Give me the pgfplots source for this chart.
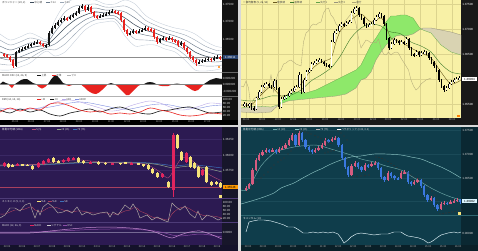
\documentclass[border=0pt]{standalone}
\usepackage{fontspec}
\setmainfont{Liberation Sans}
\newfontfamily\jp{Noto Sans CJK JP}
\usepackage{pgfplots}
\pgfplotsset{compat=1.18}
\usepackage{pgfplotstable}

\newcommand\tf{\fontsize{3}{3.3}\selectfont}
\newcommand\tfs{\fontsize{2.6}{2.9}\selectfont}

\definecolor{sep}{HTML}{D8D8D8}
\definecolor{tlstrip}{HTML}{121212}
\definecolor{tlbox}{HTML}{2A4470}
\definecolor{tlm}{HTML}{3C4B5A}
\definecolor{tls1}{HTML}{6C7B8C}
\definecolor{tls2}{HTML}{9AA6B5}
\definecolor{tls3}{HTML}{C3CCD8}
\definecolor{tlred}{HTML}{E8231F}
\definecolor{tlblk}{HTML}{151515}
\definecolor{tldmiA}{HTML}{B8A8E8}
\definecolor{tldmiB}{HTML}{8090E0}
\definecolor{trbg}{HTML}{F8F1A6}
\definecolor{trgrid}{HTML}{DCD48E}
\definecolor{trgreen}{HTML}{8EE86A}
\definecolor{trtan}{HTML}{D9D3B2}
\definecolor{trtenkan}{HTML}{6B5A1E}
\definecolor{trkijun}{HTML}{3E7A2A}
\definecolor{trchikou}{HTML}{B0A878}
\definecolor{blbg}{HTML}{2C1A52}
\definecolor{blstrip}{HTML}{17162A}
\definecolor{bltime}{HTML}{14122A}
\definecolor{blyel}{HTML}{F6E27A}
\definecolor{blred}{HTML}{E0245E}
\definecolor{blma1}{HTML}{8FA58A}
\definecolor{blma2}{HTML}{3D6FB8}
\definecolor{blma3}{HTML}{B04A78}
\definecolor{blsep}{HTML}{4E3C78}
\definecolor{blgrid}{HTML}{3A2864}
\definecolor{blk}{HTML}{B8B0A8}
\definecolor{bld}{HTML}{A8405E}
\definecolor{blmacdA}{HTML}{C58AD0}
\definecolor{blmacdB}{HTML}{8A4CA8}
\definecolor{brbg}{HTML}{0F3D4B}
\definecolor{brstrip}{HTML}{0A2832}
\definecolor{brtime}{HTML}{0A2028}
\definecolor{brpink}{HTML}{D65C80}
\definecolor{brblue}{HTML}{3A78E0}
\definecolor{brma1}{HTML}{6FA9A9}
\definecolor{brma2}{HTML}{8CC4C4}
\definecolor{brgrid}{HTML}{1A4A58}
\definecolor{brsep}{HTML}{2F6670}

\pgfplotsset{
  pane/.style={scale only axis, anchor=north west, axis line style={draw=none},
    major tick length=0pt, xtick=\empty, ytick=\empty, enlargelimits=false,
    y dir=reverse, yticklabel pos=right, xticklabel pos=bottom,
    yticklabel style={font=\tf, inner sep=0.6bp},
    xticklabel style={font=\tfs, inner sep=0.7bp, text=white!70!black}},
  wick/.style 2 args={draw=none, mark=none, error bars/.cd, y dir=both, y explicit,
    error mark=none, error bar style={draw=#1, line width=#2, line cap=butt}},
}

\newcommand\candles[6]{%
  \addplot[wick={#3}{#6}] table[x expr={#2}, y expr={(\thisrow{h}+\thisrow{l})/2}, y error expr={(\thisrow{l}-\thisrow{h})/2}]{#1};
  \addplot[wick={#3}{#5}] table[x expr={#2}, y expr={(\thisrow{o}+\thisrow{c})/2}, y error expr={abs(\thisrow{c}-\thisrow{o})/2}]{#1};
  \addplot[wick={#4}{#6}] table[x expr={#2}, y expr={(\thisrow{h}+\thisrow{l})/2}, y error expr={(\thisrow{l}-\thisrow{h})/2*(\thisrow{c}<\thisrow{o})}]{#1};
  \addplot[wick={#4}{#5}] table[x expr={#2}, y expr={(\thisrow{o}+\thisrow{c})/2}, y error expr={max(\thisrow{o}-\thisrow{c},0)/2}]{#1};
}
\newcommand\leg[5]{\draw[#3, line width=0.8bp] (#1bp,-#2bp) -- ++(3.5bp,0bp) node[right, inner sep=0.5bp, font=\tfs\jp, text=#4] {#5};}
\newcommand\ttl[4]{\node[right, inner sep=0pt, font=\tfs\jp, text=#3] at (#1bp,-#2bp) {#4};}

% ---------- data ----------
\pgfplotstableread[row sep=\\]{
o h l c\\
54 53 57 55\\ 55 54 58 57\\ 57 56 62 60\\ 60 59 68 66\\ 66 51 67 52\\
52 48 53 50\\ 50 47 51 49\\ 49 46 50 47\\ 47 44 48 46\\ 46 43 47 44\\
44 41 45 43\\ 43 40 44 42\\ 42 41 45 44\\ 44 43 47 46\\ 46 44 48 45\\
45 31 46 33\\ 33 26 34 28\\ 28 23 29 25\\ 25 20 26 22\\ 22 18 23 20\\
20 16 21 18\\ 18 17 21 19\\ 19 15 20 17\\ 17 13 18 15\\ 15 11 16 13\\
13 6 14 8\\ 8 4 9 6\\ 6 5 12 10\\ 10 5 11 7\\ 7 6 14 12\\
12 11 18 16\\ 16 15 19 17\\ 17 14 18 16\\ 16 13 17 15\\ 15 12 16 14\\
14 10 15 12\\ 12 9 13 11\\ 11 10 14 12\\ 12 11 15 13\\ 13 12 22 20\\
20 19 32 30\\ 30 29 36 34\\ 34 31 35 33\\ 33 29 34 31\\ 31 30 34 32\\
32 29 33 31\\ 31 28 32 30\\ 30 26 31 28\\ 28 27 31 29\\ 29 28 32 30\\
30 29 39 37\\ 37 36 44 42\\ 42 38 43 39\\ 39 36 40 38\\ 38 37 41 39\\
39 36 40 38\\ 38 37 42 40\\ 40 39 43 41\\ 41 40 47 45\\ 45 41 46 43\\
43 42 50 48\\ 48 47 54 52\\ 52 51 59 57\\ 57 56 62 60\\ 60 59 66 63\\
63 60 64 62\\ 62 59 63 61\\ 61 58 62 60\\ 60 57 61 59\\ 59 58 62 60\\
60 56 61 58\\ 58 55 59 57\\ 57 56 60 58\\
}\tlc

\pgfplotstableread[row sep=\\]{
x m s\\
0 52 6\\ 10 55 5\\ 20 52 5\\ 30 48 5\\ 40 46 3\\ 47 45 2\\ 55 38 6\\ 65 28 8\\
75 20 7\\ 85 15 5\\ 95 12 4\\ 105 13 3\\ 115 13 3\\ 125 18 6\\ 135 25 7\\ 145 30 5\\
155 33 4\\ 165 37 4\\ 175 40 4\\ 185 45 5\\ 195 52 6\\ 205 56 5\\ 215 58 4\\ 222 58 3.5\\
}\tlbb

\pgfplotstableread[row sep=\\]{
x v\\
0 0\\ 3 2.5\\ 6 1\\ 9 -1\\ 12 -4\\ 15 0\\ 18 2\\ 21 4\\ 24 5\\ 27 5\\ 30 3\\ 33 1\\ 36 0\\
39 -3\\ 42 -4.5\\ 45 -3\\ 48 0\\ 51 4.5\\ 54 8\\ 57 8.5\\ 60 5\\ 63 1\\ 66 -1\\ 69 -2\\ 72 -1\\
75 0\\ 78 0\\ 81 -0.5\\ 84 -3\\ 87 -6\\ 90 -8\\ 93 -9.5\\ 96 -10\\ 99 -8.5\\ 102 -6\\ 105 -3\\
108 0\\ 111 1\\ 114 0\\ 117 -2\\ 120 -5\\ 123 -8\\ 126 -11\\ 129 -11\\ 132 -8\\ 135 -5\\ 138 -2\\
141 -0.5\\ 144 0\\ 147 1.5\\ 150 2\\ 153 1.5\\ 156 0\\ 159 -1.5\\ 162 -2\\ 165 -2\\ 168 -2\\
171 -1\\ 174 0\\ 177 0.5\\ 180 -1\\ 183 0\\ 186 -2\\ 189 -4\\ 192 -6\\ 195 -7\\ 198 -6\\
201 -3\\ 204 0\\ 207 2\\ 210 4\\ 213 5\\ 216 6\\ 219 5.5\\ 222 5\\
}\tlosc

\pgfplotstableread[row sep=\\]{
x r k a b\\
0 112 110 108 109\\ 10 108 113 109 109\\ 20 111 109 110 109\\ 30 108 112 109 109\\
40 110 110 108 108\\ 50 104 114 104 107\\ 60 103 116 101 105\\ 70 106 113 100 103\\
80 110 111 102 102\\ 90 112 109 105 103\\ 100 111 112 108 105\\ 110 114 109 111 107\\
120 113 107 110 109\\ 130 114 110 106 109\\ 140 112 113 103 107\\ 150 108 114 101 105\\
160 110 111 103 104\\ 170 112 110 107 105\\ 180 115 108 110 107\\ 190 116 107 109 108\\
200 115 110 106 108\\ 210 113 113 103 106\\ 222 114 112 104 105\\
}\tldmi

\pgfplotstableread[row sep=\\]{
o h l c\\
105 102 107 104\\ 104 103 107 106\\ 106 103 108 104\\ 104 103 110 108\\ 108 106 111 109\\
109 97 110 98\\ 98 90 99 92\\ 92 85 93 87\\ 87 83 88 85\\ 85 82 86 84\\
84 83 88 86\\ 86 85 89 87\\ 87 79 88 81\\ 81 80 90 88\\ 88 87 109 107\\
107 97 108 99\\ 99 95 100 97\\ 97 95 99 96\\ 96 91 97 93\\ 93 89 94 91\\
91 86 92 88\\ 88 85 89 87\\ 87 72 88 75\\ 75 74 94 92\\ 92 78 93 80\\
80 70 81 72\\ 72 68 73 70\\ 70 62 71 64\\ 64 61 65 63\\ 63 59 64 61\\
61 58 62 60\\ 60 59 63 62\\ 62 61 66 64\\ 64 63 67 65\\ 65 64 68 66\\
66 40 67 42\\ 42 31 43 33\\ 33 29 34 31\\ 31 24 32 26\\ 26 22 27 24\\
24 23 27 25\\ 25 21 26 23\\ 23 20 24 22\\ 22 11 23 13\\ 13 7 14 9\\
9 6 11 8\\ 8 7 17 15\\ 15 14 20 18\\ 18 17 26 24\\ 24 23 28 26\\
26 23 27 25\\ 25 22 26 24\\ 24 18 25 20\\ 20 15 21 17\\ 17 12 18 14\\
14 13 18 16\\ 16 15 26 24\\ 24 23 40 38\\ 38 37 50 48\\ 48 42 49 44\\
44 38 45 40\\ 40 39 43 41\\ 41 40 45 43\\ 43 40 44 42\\ 42 41 45 43\\
43 37 44 39\\ 39 38 50 48\\ 48 47 56 54\\ 54 53 57 55\\ 55 50 56 52\\
52 51 57 55\\ 55 51 56 53\\ 53 50 54 52\\ 52 51 55 53\\ 53 52 60 58\\
58 57 64 62\\ 62 61 68 66\\ 66 65 72 70\\ 70 69 82 80\\ 80 79 88 86\\
86 85 92 90\\ 90 86 91 88\\ 88 82 89 84\\ 84 80 85 82\\ 82 78 83 80\\
80 77 81 79\\ 79 76 80 78\\
}\trc

% Ichimoku spans A and B
\pgfplotstableread[row sep=\\]{
x a b\\
0 108 112\\ 15 106 113\\ 30 107 112\\ 38 104.5 104.5\\ 47 94 101\\ 55 92 100\\ 65 93 99\\
75 90 98\\ 85 85 97\\ 95 80 96\\ 105 75 94\\ 115 70 88\\ 120 65 80\\ 125 55 78\\
130 45 72\\ 135 38 60\\ 140 30 52\\ 145 22 45\\ 150 16 40\\ 155 16 36\\ 160 15 35\\
165 15 36\\ 172 18 34\\ 178 27 30\\ 180 29 29\\ 182 30 28\\ 190 33 28\\ 200 45 30\\ 210 52 32\\ 220 55 35\\
}\trcloud

\pgfplotstableread[row sep=\\]{
x t k\\
0 105 100\\ 10 105 101\\ 20 95 99\\ 30 87 96\\ 40 96 96\\ 50 93 95\\ 60 84 90\\ 70 70 81\\
80 62 75\\ 90 58 68\\ 95 42 62\\ 100 30 55\\ 110 20 38\\ 120 14 28\\ 130 22 24\\ 140 18 26\\
145 26 30\\ 150 38 32\\ 160 42 34\\ 170 48 42\\ 180 53 46\\ 190 58 52\\ 200 72 64\\ 210 84 72\\ 220 80 74\\
}\trline

\pgfplotstableread[row sep=\\]{
x o h l c\\
4 166 162 167 163\\ 8 164 163 168 167\\ 12 165 164 167 166\\ 17 165 163 166 164\\ 22 164 163.5 166 165\\
27 165 164 166 165.6\\ 32 166 165 170 169\\ 38 167 162 168 163\\ 43 164 160 165 161\\ 48 162 158 163 159\\
53 158 157 163 162\\ 58 161 160 163 162\\ 63 162 159 163 160\\ 68 161 157 162 158\\ 73 159 157 160 158\\
78 158 157 163 162\\ 83 161 160 164 163\\ 90 163 161 164 162\\ 98 162 161 165 164\\ 105 163 162 164.5 163.8\\
112 164 162.5 164.5 163.2\\ 120 163 162.5 164.5 163.8\\ 125 162 161.5 164 163.5\\ 131 164 162 164.5 163\\ 138 163 162.5 165 164.6\\
143 164 163.5 166.5 166\\ 148 165 164 170 169\\ 152 169 168 174 173\\ 157 173 172 178 177\\ 162 177 173 178 174\\
168 182 181 188 187\\ 173 190 133 197 135\\ 177 135 134 149 148\\ 181 152 151 161 160\\ 186 162 152 163 153\\
190 157 156 168 167\\ 194 163 162 169 168\\ 198 167 166 178 177\\ 202 175 169 176 170\\ 206 167 166 183 182\\
211 182 181 186 185\\ 216 182 181 185 184\\ 220 183 182 188 187\\
}\blc

\pgfplotstableread[row sep=\\]{
x a b c\\
0 165 166 165\\ 20 165 165.5 165\\ 40 164.5 165 164\\ 60 163.5 164 161\\ 80 162.5 163 160\\
100 162.5 162.5 162\\ 120 162.5 162 163\\ 140 163 162.5 163.5\\ 150 163.5 163 166\\ 160 165 164 172\\
168 167 165 178\\ 175 168 166 168\\ 180 167 165.5 160\\ 185 166.5 165 157\\ 190 166 165 159\\
200 167 165.5 167\\ 210 169 166.5 175\\ 222 172 168 181\\
}\blma

\pgfplotstableread[row sep=\\]{
x k d\\
0 218 214\\ 5 215 214\\ 10 208 212\\ 15 208 210\\ 20 211 210\\ 25 205 209\\ 30 203 207\\
32 210 207\\ 35 218 210\\ 38 210 211\\ 40 215 212\\ 43 207 211\\ 48 203 208\\ 53 207 207\\
58 213 208\\ 63 212 210\\ 67 210 211\\ 72 213 212\\ 77 207 211\\ 82 215 211\\ 87 212 212\\
93 215 213\\ 100 213 213\\ 107 212 213\\ 110 217 214\\ 113 212 214\\ 118 215 214\\ 125 205 211\\
130 209 210\\ 133 204 208\\ 137 210 208\\ 140 218 211\\ 147 215 214\\ 152 220 217\\ 157 217 218\\
163 220 219\\ 168 222 220\\ 172 203 214\\ 175 206 211\\ 180 210 208\\ 185 206 207\\ 190 214 209\\
195 218 212\\ 198 211 213\\ 202 220 215\\ 207 215 216\\ 213 217 216\\ 218 220 217\\ 222 218 218\\
}\blst

\pgfplotstableread[row sep=\\]{
x a b\\
0 233 232\\ 30 233 232\\ 50 231 231.5\\ 70 229 230.5\\ 90 227.5 229.5\\ 110 227 229\\
130 228 229\\ 145 229.5 230\\ 155 232 231\\ 165 236 233\\ 172 238 235\\ 180 235 236\\
190 232 235\\ 200 231 234\\ 210 234 235\\ 222 239 237\\
}\blmacd

\pgfplotstableread[row sep=\\]{
o h l c\\
190 186 191 188\\ 188 183 189 184\\ 184 168 185 170\\ 170 158 171 160\\ 160 153 161 155\\
155 150 156 152\\ 152 148 153 150\\ 150 149 153 151\\ 151 148 152 150\\ 150 149 154 152\\
152 147 153 149\\ 149 146 150 148\\ 148 143 149 145\\ 145 138 146 140\\ 140 133 141 135\\
135 134 147 145\\ 145 131 146 133\\ 133 132 142 140\\ 140 139 149 147\\ 147 146 152 150\\
150 149 154 152\\ 152 148 153 150\\ 150 146 151 148\\ 148 143 149 145\\ 145 138 146 140\\
140 139 143 141\\ 141 137 142 139\\ 139 136 140 138\\ 138 137 147 145\\ 145 144 160 158\\
158 157 169 167\\ 167 166 177 175\\ 175 164 176 166\\ 166 161 167 163\\ 163 162 169 167\\
167 166 172 170\\ 170 163 171 165\\ 165 164 168 166\\ 166 162 167 164\\ 164 161 165 163\\
163 162 170 168\\ 168 167 179 177\\ 177 176 182 180\\ 180 171 181 173\\ 173 172 178 176\\
176 175 180 178\\ 178 177 180 179\\ 178 171 179 173\\ 173 170 174 172\\ 172 171 184 182\\
182 181 186 184\\ 184 180 185 182\\ 182 178 183 180\\ 180 179 188 186\\ 186 185 197 195\\
195 194 202 200\\ 200 196 201 198\\ 198 197 207 205\\ 205 204 211 209\\ 209 202 210 204\\
204 201 205 203\\ 203 202 205 204\\ 203 200 204 202\\ 202 199 203 201\\ 201 198 202 200\\
200 199 204 202\\
}\brc

\pgfplotstableread[row sep=\\]{
x s l\\
0 190 204\\ 7 189 202\\ 20 166 198\\ 33 153 193\\ 40 150 188\\ 53 147 183\\ 60 146 179\\
73 145 172\\ 80 146 169\\ 90 149 164\\ 100 152 160\\ 110 155 157\\ 120 159 156\\ 133 162 154\\
145 166 154\\ 160 170 155\\ 170 176 157\\ 180 182 159\\ 190 188 163\\ 200 193 167\\ 210 197 172\\ 220 200 178\\
}\brma

\pgfplotstableread[row sep=\\]{
x y\\
7 192\\ 10 189\\ 13 185\\ 16 182\\ 20 178\\ 23 175\\ 27 172\\ 30 168\\ 33 165\\ 37 162\\ 40 160\\
43 158\\ 47 154\\ 50 151\\
55 130\\ 58 130.5\\ 61 131\\ 64 132\\ 67 133\\ 70 134\\ 74 135.5\\ 77 137\\ 80 138.5\\ 84 140.5\\ 87 142\\ 90 143.5\\
84 153\\ 87 152\\ 90 151\\ 93 150.5\\
97 131\\ 100 133\\ 103 136\\ 106 140\\
112 177\\ 116 176.5\\ 120 176\\ 124 175.5\\ 128 175\\
135 157\\ 138 157.5\\ 141 158.5\\ 144 160\\ 147 161.5\\ 150 163.5\\ 153 165.5\\ 156 167.5\\ 159 170\\ 162 172\\
167 173\\ 170 175\\ 173 177\\ 177 178.5\\ 182 180\\ 185 183\\ 188 187\\ 191 191\\ 194 195\\ 196 200\\ 198 206\\
199 214\\ 202 213.5\\ 205 213\\ 208 212.5\\ 211 212\\ 214 211.5\\ 217 211\\ 220 210\\
}\brsar

\pgfplotstableread[row sep=\\]{
x y\\
5 232\\ 8 222\\ 12 221\\ 17 220\\ 23 220\\ 30 221\\ 37 223\\ 43 225\\ 47 227\\ 53 227\\ 58 230\\
62 233\\ 67 233\\ 72 232\\ 77 233\\ 82 232\\ 87 233\\ 92 232\\ 97 234\\ 100 238\\ 103 243\\ 107 240\\
110 237\\ 115 234\\ 120 233\\ 127 234\\ 133 235\\ 140 234\\ 147 234\\ 153 232\\ 160 232\\ 163 234\\
167 236\\ 173 237\\ 178 238\\ 183 240\\ 187 243\\ 190 242\\ 193 240\\ 197 237\\ 200 235\\ 207 233\\
213 232\\ 217 233\\ 220 232\\
}\brmom

\begin{document}
\begin{tikzpicture}
\useasboundingbox (0,0) rectangle (478bp,-251bp);
\fill[sep] (0,0) rectangle (478bp,-251bp);
% backgrounds
\fill[white] (0,0) rectangle (222bp,-120bp);
\fill[tlstrip] (222bp,0) rectangle (238bp,-125bp);
\fill[black] (0,-120bp) rectangle (238bp,-125bp);
\fill[trbg] (241bp,0) rectangle (461bp,-118bp);
\fill[black!90] (461bp,0) rectangle (478bp,-124.5bp);
\fill[black!90] (241bp,-118bp) rectangle (478bp,-124.5bp);
\fill[blbg] (0,-127bp) rectangle (222bp,-245bp);
\fill[blstrip] (222bp,-127bp) rectangle (238bp,-251bp);
\fill[bltime] (0,-245bp) rectangle (238bp,-251bp);
\fill[brbg] (241bp,-127bp) rectangle (461bp,-245bp);
\fill[brstrip] (461bp,-127bp) rectangle (478bp,-251bp);
\fill[brtime] (241bp,-245bp) rectangle (478bp,-251bp);

% ===== TL main =====
\begin{axis}[pane, at={(0bp,0bp)}, width=222bp, height=72bp, xmin=0, xmax=222, ymin=0, ymax=72,
  ytick={4,21.5,39}, yticklabels={1.37500,1.37000,1.36500}, yticklabel style={text=white!85!black}]
\addplot[tls3, line width=0.35bp, smooth] table[x=x, y expr={\thisrow{m}-3*\thisrow{s}}]{\tlbb};
\addplot[tls3, line width=0.35bp, smooth] table[x=x, y expr={\thisrow{m}+3*\thisrow{s}}]{\tlbb};
\addplot[tls2, line width=0.4bp, smooth] table[x=x, y expr={\thisrow{m}-2*\thisrow{s}}]{\tlbb};
\addplot[tls2, line width=0.4bp, smooth] table[x=x, y expr={\thisrow{m}+2*\thisrow{s}}]{\tlbb};
\addplot[tls1, line width=0.45bp, smooth] table[x=x, y expr={\thisrow{m}-\thisrow{s}}]{\tlbb};
\addplot[tls1, line width=0.45bp, smooth] table[x=x, y expr={\thisrow{m}+\thisrow{s}}]{\tlbb};
\addplot[tlm, line width=0.55bp, smooth] table[x=x, y=m]{\tlbb};
\addplot[black!45, line width=0.4bp] coordinates {(0,57)(222,57)};
\candles{\tlc}{4+3*\coordindex}{tlred}{tlblk}{2bp}{0.4bp}
\end{axis}
% ===== TL osc =====
\begin{axis}[pane, at={(0bp,-73bp)}, width=222bp, height=23bp, xmin=0, xmax=222, ymin=-12, ymax=11, y dir=normal,
  ytick={6,0,-7}, yticklabels={0.000200,0.000000,-0.000200}, yticklabel style={text=white!85!black}]
\addplot[fill=tlblk, draw=none] table[x=x, y expr={max(\thisrow{v},0)}]{\tlosc} \closedcycle;
\addplot[fill=tlred, draw=none] table[x=x, y expr={min(\thisrow{v},0)}]{\tlosc} \closedcycle;
\addplot[black!50, line width=0.3bp] coordinates {(0,0)(222,0)};
\end{axis}
% ===== TL DMI =====
\begin{axis}[pane, at={(0bp,-97bp)}, width=222bp, height=23bp, xmin=0, xmax=222, ymin=97, ymax=120,
  ytick={99.5,103.5,107.5,111.5,115.5}, yticklabels={100.00,80.00,60.00,40.00,20.00}, yticklabel style={text=white!85!black},
  xtick={15,31,47,63,79,95,111,127,143,159,175,191,207},
  xticklabels={05:00,06:00,07:00,08:00,09:00,10:00,11:00,12:00,13:00,14:00,15:00,16:00,17:00}]
\addplot[tldmiB, line width=0.4bp, smooth] table[x=x, y=b]{\tldmi};
\addplot[tldmiA, line width=0.4bp, smooth] table[x=x, y=a]{\tldmi};
\addplot[tlblk, line width=0.6bp, smooth] table[x=x, y=k]{\tldmi};
\addplot[tlred, line width=0.6bp, smooth] table[x=x, y=r]{\tldmi};
\end{axis}
\draw[black!30, line width=0.4bp] (0,-72.5bp) -- (222bp,-72.5bp);
\draw[black!30, line width=0.4bp] (0,-96.5bp) -- (222bp,-96.5bp);
\draw[black!60, line width=0.4bp] (222bp,-72.5bp) -- (238bp,-72.5bp);
\draw[black!60, line width=0.4bp] (222bp,-96.5bp) -- (238bp,-96.5bp);

% ===== TR main =====
\begin{axis}[pane, at={(241bp,0bp)}, width=220bp, height=118bp, xmin=0, xmax=220, ymin=0, ymax=118,
  grid=major, major grid style={trgrid, line width=0.35bp},
  xtick={5,21,37,52,68,84,100,116,132,147,163,179,195,211},
  xticklabels={06:00,08:00,10:00,12:00,14:00,16:00,18:00,20:00,22:00,00:00,02:00,04:00,06:00,08:00},
  ytick={4,29,54,79,104}, yticklabels={1.37500,1.37000,1.36500,{},1.35500}, yticklabel style={text=white, xshift=0.5bp}]
% cloud pieces: span A forward, span B backward
\addplot[fill=trtan, draw=none] coordinates {(0,108)(15,106)(30,107)(38,104.5)(30,112)(15,113)(0,112)} -- cycle;
\addplot[fill=trgreen, draw=none] coordinates {(38,104.5)(47,94)(55,92)(65,93)(75,90)(85,85)(95,80)(105,75)(115,70)(120,65)(125,55)(130,45)(135,38)(140,30)(145,22)(150,16)(155,16)(160,15)(165,15)(172,18)(178,27)(180,29)
 (178,30)(172,34)(165,36)(160,35)(155,36)(150,40)(145,45)(140,52)(135,60)(130,72)(125,78)(120,80)(115,88)(105,94)(95,96)(85,97)(75,98)(65,99)(55,100)(47,101)} -- cycle;
\addplot[fill=trtan, draw=none] coordinates {(180,29)(182,30)(190,33)(200,45)(210,52)(220,55)(220,35)(210,32)(200,30)(190,28)(182,28)} -- cycle;
\addplot[trgreen!75!black, line width=0.3bp] table[x=x, y=a]{\trcloud};
\addplot[trtan!70!black, line width=0.3bp] table[x=x, y=b]{\trcloud};
\addplot[trchikou, line width=0.35bp] table[x expr={3+2.5*\coordindex-28}, y=c]{\trc};
\addplot[trkijun, line width=0.4bp, smooth] table[x=x, y=k]{\trline};
\addplot[trtenkan, line width=0.4bp, smooth] table[x=x, y=t]{\trline};
\addplot[wick={black}{0.35bp}] table[x expr={3+2.5*\coordindex}, y expr={(\thisrow{h}+\thisrow{l})/2}, y error expr={(\thisrow{l}-\thisrow{h})/2}]{\trc};
\addplot[wick={black}{1.5bp}] table[x expr={3+2.5*\coordindex}, y expr={(\thisrow{o}+\thisrow{c})/2}, y error expr={abs(\thisrow{c}-\thisrow{o})/2}]{\trc};
\addplot[wick={white}{0.7bp}] table[x expr={3+2.5*\coordindex}, y expr={(\thisrow{o}+\thisrow{c})/2}, y error expr={max(\thisrow{o}-\thisrow{c}-0.8,0)/2}]{\trc};
\end{axis}

% ===== BL main =====
\begin{axis}[pane, at={(0bp,-127bp)}, width=222bp, height=71bp, xmin=0, xmax=222, ymin=127, ymax=198,
  grid=major, major grid style={blgrid, line width=0.3bp},
  ytick={139.5,155,170.5}, yticklabels={1.36250,1.36000,1.35750}, yticklabel style={text=white!85!black}]
\addplot[bld, line width=0.4bp] coordinates {(0,187)(222,187)};
\addplot[blma2, line width=0.5bp, smooth] table[x=x, y=b]{\blma};
\addplot[blma1, line width=0.5bp, smooth] table[x=x, y=a]{\blma};
\addplot[blma3, line width=0.4bp, smooth] table[x=x, y=c]{\blma};
\candles{\blc}{\thisrow{x}}{blyel}{blred}{3bp}{0.45bp}
\end{axis}
% ===== BL stoch =====
\begin{axis}[pane, at={(0bp,-198bp)}, width=222bp, height=24bp, xmin=0, xmax=222, ymin=198, ymax=222,
  ytick={202,206,210,214,218}, yticklabels={100.00,80.00,60.00,40.00,20.00}, yticklabel style={text=white!85!black}]
\addplot[bld, line width=0.4bp, smooth] table[x=x, y=d]{\blst};
\addplot[blk, line width=0.45bp] table[x=x, y=k]{\blst};
\end{axis}
% ===== BL MACD =====
\begin{axis}[pane, at={(0bp,-222bp)}, width=222bp, height=23bp, xmin=0, xmax=222, ymin=222, ymax=245,
  ytick={232}, yticklabels={0.0000}, yticklabel style={text=white!85!black},
  xtick={7,22,37,52,67,82,97,112,127,142,157,172,187,202,217},
  xticklabels={03:05,03:06,03:07,03:08,03:09,03:10,03:11,03:12,03:13,03:14,03:15,03:16,03:17,03:18,03:19}]
\addplot[blgrid!70!white, line width=0.3bp] coordinates {(0,232)(222,232)};
\addplot[blmacdB, line width=0.5bp, smooth] table[x=x, y=b]{\blmacd};
\addplot[blmacdA, line width=0.5bp, smooth] table[x=x, y=a]{\blmacd};
\end{axis}
\draw[blsep, line width=0.4bp] (0,-198.5bp) -- (238bp,-198.5bp);
\draw[blsep, line width=0.4bp] (0,-222.5bp) -- (238bp,-222.5bp);

% ===== BR main =====
\begin{axis}[pane, at={(241bp,-127bp)}, width=220bp, height=88bp, xmin=0, xmax=220, ymin=127, ymax=215,
  grid=major, major grid style={brgrid, line width=0.3bp},
  ytick={130,154,178,201}, yticklabels={1.37500,1.37000,1.36500,{}}, yticklabel style={text=white!85!black, xshift=0.5bp}]
\addplot[brma1, line width=0.45bp, smooth] table[x=x, y=s]{\brma};
\addplot[brma2, line width=0.45bp, smooth] table[x=x, y=l]{\brma};
\addplot[only marks, mark=*, mark size=0.4bp, mark options={draw=none, fill=white}] table[x=x, y=y]{\brsar};
\candles{\brc}{5+3.3*\coordindex}{brblue}{brpink}{2.3bp}{0.4bp}
\end{axis}
% ===== BR momentum =====
\begin{axis}[pane, at={(241bp,-215bp)}, width=220bp, height=30bp, xmin=0, xmax=220, ymin=215, ymax=245,
  ytick={233}, yticklabels={0.00000}, yticklabel style={text=white!85!black, xshift=0.5bp},
  xtick={7,22,37,52,67,82,97,112,127,142,157,172,187,202,217},
  xticklabels={09:00,09:30,10:00,10:30,11:00,11:30,12:00,12:30,13:00,13:30,14:00,14:30,15:00,15:30,16:00}]
\addplot[white!90!cyan, line width=0.45bp] table[x=x, y=y]{\brmom};
\end{axis}
\draw[brsep, line width=0.4bp] (241bp,-215.5bp) -- (478bp,-215.5bp);

% ===== price boxes & icons =====
\node[fill=tlbox, text=white, font=\tf, inner sep=0.6bp, minimum width=15bp] at (230.2bp,-57bp) {1.36011};
\node[fill=white, text=black, font=\tf, inner sep=0.6bp, minimum width=15bp] at (469.5bp,-79bp) {1.36004};
\node[fill=orange!80!yellow, text=black, font=\tf, inner sep=0.6bp, minimum width=15bp] at (230.2bp,-187bp) {1.35548};
\node[fill=white!85!cyan, text=black, font=\tf, inner sep=0.6bp, minimum width=15bp] at (469.5bp,-201bp) {1.36002};
\fill[orange] (219bp,-67bp) circle (1.2bp);
\fill[orange] (457bp,-114.5bp) rectangle (459.5bp,-117bp);
\fill[blyel] (219bp,-195bp) rectangle (221.5bp,-197.5bp);
\fill[blyel] (458bp,-212bp) rectangle (460.5bp,-214.5bp);

% ===== titles & legends =====
\ttl{2}{2.6}{black!80}{ボリンジャー (20, 2)}
\leg{30}{2.6}{tlm}{black!70}{中心線}
\leg{46}{2.6}{tls1}{black!70}{±1σ}
\leg{60}{2.6}{tls2}{black!70}{±2σ}
\ttl{2}{75.3}{black!80}{MACD OSC (12, 26, 9)}
\leg{37}{75.3}{tlblk}{black!70}{上昇}
\leg{52}{75.3}{tlred}{black!70}{下降}
\leg{67}{75.3}{black!30}{black!50}{ゼロ}
\ttl{2}{99.3}{black!80}{DMI (14, 14, 14)}
\leg{37}{99.3}{tlred}{black!70}{+DI}
\leg{50}{99.3}{tlblk}{black!70}{-DI}
\leg{62}{99.3}{tldmiA}{black!70}{ADX}
\leg{75}{99.3}{tldmiB}{black!70}{ADXR}
\ttl{243}{2.6}{black!80}{一目均衡表 (9, 26, 52)}
\leg{273}{2.6}{trtenkan}{black!70}{転換線}
\leg{290}{2.6}{trkijun}{black!70}{基準線}
\leg{316}{2.6}{trgreen!70!black}{black!70}{先行1}
\leg{334}{2.6}{trtan!70!black}{black!70}{先行2}
\leg{352}{2.6}{trchikou}{black!70}{遅行}
\ttl{2}{129.6}{white!90!black}{移動平均線 (SMA)}
\leg{32}{129.6}{blma3}{white!85!black}{5 (5)}
\leg{57}{129.6}{blma1}{white!85!black}{25 (25)}
\leg{73}{129.6}{blma2}{white!85!black}{75 (75)}
\ttl{2}{201.2}{white!90!black}{ストキャス (9, 3, 3)}
\leg{37}{201.2}{blyel}{white!85!black}{\%K}
\leg{48}{201.2}{bld}{white!85!black}{\%D}
\leg{60}{201.2}{blma2}{white!85!black}{SD}
\ttl{2}{225.2}{white!90!black}{MACD (12, 26, 9)}
\leg{30}{225.2}{blred}{white!85!black}{MACD}
\leg{47}{225.2}{white!80!black}{white!85!black}{シグナル}
\leg{63}{225.2}{blmacdB}{white!85!black}{OSC}
\ttl{243}{129.6}{white!90!black}{移動平均線 (EMA)}
\leg{273}{129.6}{brma1}{white!85!black}{10 (10)}
\leg{295}{129.6}{brma2}{white!85!black}{25 (25)}
\leg{316}{129.6}{white!70!black}{white!85!black}{75 (75)}
\leg{337}{129.6}{white}{white!85!black}{パラボリック (0.02, 0.2)}
\ttl{243}{218.2}{white!90!black}{モメンタム (10)}
\end{tikzpicture}
\end{document}
